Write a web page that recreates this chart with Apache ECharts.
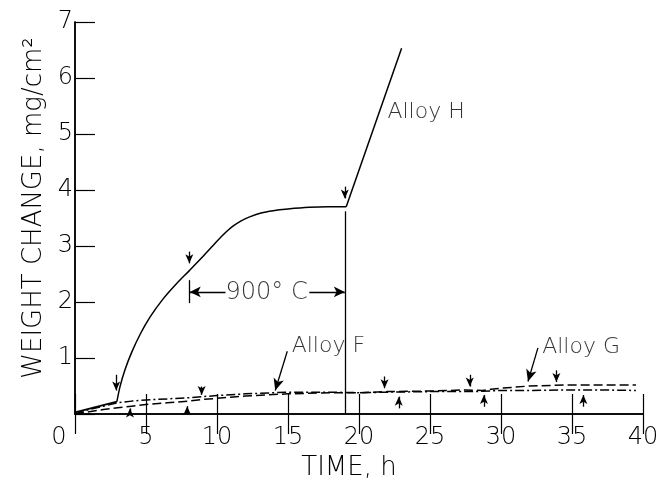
<!DOCTYPE html>
<html>
<head>
<meta charset="utf-8">
<script src="https://cdn.jsdelivr.net/npm/echarts@6/dist/echarts.min.js"></script>
<style>html,body{margin:0;padding:0;background:#fff;}#c{width:661px;height:479px;}</style>
</head>
<body>
<div id="c"></div>
<script>
// ---- data ----
const hStartX = [0, 2.95];
const hStartY = [0.03, 0.22];
const hRiseX = [2.95, 3.17, 3.52, 3.99, 4.58, 5.28, 6.22, 7.16, 8.05, 9.04, 9.98, 10.6, 11.1, 11.7, 12.3, 13.1, 13.95, 15.0, 16.5, 17.8, 19.1];
const hRiseY = [0.22, 0.49, 0.79, 1.10, 1.42, 1.73, 2.06, 2.33, 2.56, 2.82, 3.08, 3.24, 3.35, 3.45, 3.52, 3.59, 3.63, 3.66, 3.69, 3.70, 3.70];
const hJumpX = [19.1, 23.0];
const hJumpY = [3.70, 6.53];

const gX = [0, 1, 2, 3, 4, 5, 6.5, 8, 9, 10, 12, 15, 18, 20, 22, 25, 27.5, 28.7, 29.3, 30, 31, 32, 35, 37, 39.5];
const gY = [0, 0.04, 0.08, 0.11, 0.14, 0.17, 0.20, 0.23, 0.26, 0.28, 0.32, 0.36, 0.38, 0.38, 0.40, 0.41, 0.43, 0.42, 0.44, 0.46, 0.48, 0.50, 0.52, 0.52, 0.52];
const fX = [0, 1, 2, 3, 4, 5, 6.5, 8, 9, 10, 12, 15, 18, 20, 22, 25, 28, 30, 32, 35, 37, 39.5];
const fY = [0, 0.08, 0.14, 0.20, 0.23, 0.25, 0.27, 0.29, 0.31, 0.33, 0.36, 0.39, 0.39, 0.38, 0.39, 0.40, 0.40, 0.42, 0.42, 0.43, 0.43, 0.42];

// arrows: [x, yFrom, yTo]
const downArrows = [[2.9, 0.70, 0.42], [8.05, 2.90, 2.69], [19.0, 4.06, 3.85], [8.92, 0.49, 0.34], [21.8, 0.67, 0.46], [27.8, 0.70, 0.49], [33.9, 0.78, 0.57]];
const upArrows = [[3.87, 0.0, 0.10], [7.9, 0.0, 0.14], [22.8, 0.10, 0.31], [28.8, 0.13, 0.34], [35.8, 0.13, 0.34]];
// label pointer arrows: [xFrom, yFrom, xTo, yTo]
const pointerArrows = [[14.95, 1.12, 14.1, 0.42], [32.6, 1.18, 31.9, 0.58]];
// plain segments: [x1, y1, x2, y2]
const plainSegments = [[19.05, 3.62, 19.05, 0], [8.03, 2.39, 8.03, 1.98]];
// bracket arrows for 900 C: [xFrom, xTo, y]
const bracketArrows = [[10.6, 8.08, 2.18], [16.5, 19.0, 2.18]];

const labelTexts = ['Alloy H', 'Alloy F', 'Alloy G'];
const labelX = [22.0, 15.26, 32.9];
const labelY = [5.39, 1.21, 1.2];
const tempText = '900° C';
const tempPos = [13.49, 2.16];

const xMin = 0, xMax = 40, xStep = 5;
const yMin = 0, yMax = 7, yStep = 1;
const xTitle = 'TIME, h';
const yTitle = 'WEIGHT CHANGE, mg/cm²';

// ---- build ----
const zip = (xs, ys) => xs.map((x, i) => [x, ys[i]]);
const ink = '#000';
const FONT = 'DejaVu Sans';
const FW = 200;

const mlData = [];
downArrows.concat(upArrows).forEach(a => {
  mlData.push([{coord: [a[0], a[1]], symbol: 'none'}, {coord: [a[0], a[2]], symbol: 'arrow', symbolSize: [6, 9]}]);
});
pointerArrows.forEach(a => {
  mlData.push([{coord: [a[0], a[1]], symbol: 'none'}, {coord: [a[2], a[3]], symbol: 'arrow', symbolSize: [8, 12]}]);
});
plainSegments.forEach(a => {
  mlData.push([{coord: [a[0], a[1]], symbol: 'none'}, {coord: [a[2], a[3]], symbol: 'none'}]);
});
bracketArrows.forEach(a => {
  mlData.push([{coord: [a[0], a[2]], symbol: 'none'}, {coord: [a[1], a[2]], symbol: 'arrow', symbolSize: [8, 11]}]);
});

const chart = echarts.init(document.getElementById('c'), null, {renderer: 'canvas'});
const axisFont = {fontFamily: FONT, fontWeight: FW, fontSize: 24, color: ink};

chart.setOption({
  animation: false,
  backgroundColor: '#fff',
  grid: {left: 75, right: 18, top: 22, bottom: 65, containLabel: false, outerBoundsMode: 'none'},
  xAxis: [{
    type: 'value', min: xMin, max: xMax, interval: xStep,
    position: 'bottom',
    name: xTitle, nameLocation: 'middle', nameGap: 38,
    nameTextStyle: {fontFamily: FONT, fontWeight: FW, fontSize: 26, color: ink, padding: [0, 20, 0, 0]},
    axisLine: {show: true, lineStyle: {color: ink, width: 1.5}},
    axisTick: {show: true, inside: true, length: 20, lineStyle: {color: ink, width: 1.2}},
    axisLabel: Object.assign({margin: 12,
      formatter: v => v === 0 ? '{o|0}' : String(v),
      rich: {o: Object.assign({padding: [0, 32, 0, 0]}, axisFont)}}, axisFont),
    splitLine: {show: false}
  }, {
    type: 'value', min: xMin, max: xMax, interval: xStep,
    position: 'top',
    axisLine: {show: true, lineStyle: {color: ink, width: 1.5}},
    axisTick: {show: true, inside: true, length: 20, lineStyle: {color: ink, width: 1.2}},
    axisLabel: {show: false},
    splitLine: {show: false}
  }],
  yAxis: [{
    type: 'value', min: yMin, max: yMax, interval: yStep,
    position: 'left',
    name: yTitle, nameLocation: 'middle', nameGap: 28, nameRotate: 90,
    nameTextStyle: {fontFamily: FONT, fontWeight: FW, fontSize: 26, color: ink, padding: [0, 0, 0, 20]},
    axisLine: {show: true, lineStyle: {color: ink, width: 1.5}},
    axisTick: {show: true, inside: true, length: 20, lineStyle: {color: ink, width: 1.2}},
    axisLabel: Object.assign({margin: 2, formatter: v => v === 0 ? '' : String(v)}, axisFont),
    splitLine: {show: false}
  }, {
    type: 'value', min: yMin, max: yMax, interval: yStep,
    position: 'right',
    axisLine: {show: true, lineStyle: {color: ink, width: 1.5}},
    axisTick: {show: false},
    axisLabel: {show: false},
    splitLine: {show: false}
  }],
  series: [
    {type: 'line', name: 'Alloy H', data: zip(hStartX, hStartY), showSymbol: false, lineStyle: {color: ink, width: 1.8}},
    {type: 'line', name: 'Alloy H rise', data: zip(hRiseX, hRiseY), smooth: 0.3, showSymbol: false, lineStyle: {color: ink, width: 1.5}},
    {type: 'line', name: 'Alloy H jump', data: zip(hJumpX, hJumpY), showSymbol: false, lineStyle: {color: ink, width: 1.5}},
    {type: 'line', name: 'Alloy G', data: zip(gX, gY), showSymbol: false, lineStyle: {color: ink, width: 1.5, type: [9, 4]}},
    {type: 'line', name: 'Alloy F', data: zip(fX, fY), showSymbol: false, lineStyle: {color: ink, width: 1.5, type: [9, 3, 2, 3]}},
    {type: 'line', name: 'marks', data: [], showSymbol: false,
      markLine: {silent: true, animation: false, label: {show: false},
        lineStyle: {color: ink, width: 1.3, type: 'solid'},
        emphasis: {disabled: true},
        data: mlData}},
    {type: 'scatter', name: 'labels', symbolSize: 0, silent: true,
      data: labelTexts.map((t, i) => ({value: [labelX[i], labelY[i]], name: t})),
      label: {show: true, position: 'right', distance: 0, formatter: p => p.name,
        fontFamily: FONT, fontWeight: FW, fontSize: 22, color: ink}},
    {type: 'scatter', name: 'temp', symbolSize: 0, silent: true,
      data: [{value: tempPos, name: tempText}],
      label: {show: true, position: 'inside', formatter: p => p.name,
        fontFamily: FONT, fontWeight: FW, fontSize: 24, color: ink}}
  ]
});
</script>
</body>
</html>
